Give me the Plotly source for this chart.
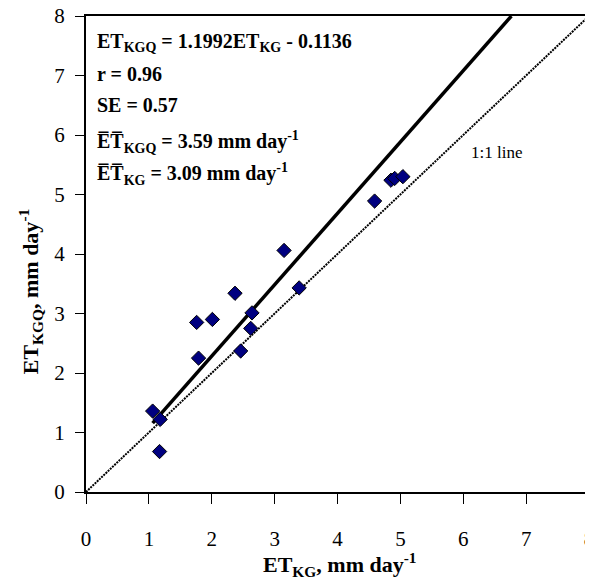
import plotly.graph_objects as go

et_kg = [1.06, 1.18, 1.17, 1.76, 2.01, 1.79, 2.37, 2.46, 2.64, 2.62, 3.15, 3.39, 4.59, 4.85, 4.91, 5.04]
et_kgq = [1.36, 1.22, 0.68, 2.85, 2.90, 2.25, 3.34, 2.37, 3.01, 2.75, 4.06, 3.43, 4.89, 5.24, 5.27, 5.30]

slope = 1.1992
intercept = -0.1136
reg_x = [1.06, (8 - intercept) / slope]
reg_y = [slope * v + intercept for v in reg_x]
one_x = [0, 8]
one_y = [0, 8]

tick_vals = [0, 1, 2, 3, 4, 5, 6, 7, 8]

FONT = "Times New Roman, Liberation Serif, DejaVu Serif, serif"

fig = go.Figure()
fig.add_trace(go.Scatter(x=one_x, y=one_y, mode="lines",
                         line=dict(color="black", width=2, dash="2px,1px"), showlegend=False))
fig.add_trace(go.Scatter(x=reg_x, y=reg_y, mode="lines",
                         line=dict(color="black", width=3.5), showlegend=False))
fig.add_trace(go.Scatter(x=et_kg, y=et_kgq, mode="markers",
                         marker=dict(symbol="diamond", size=11, color="#000080",
                                     line=dict(color="black", width=1)), showlegend=False))

lines = [
    "<b>ET<sub>KGQ</sub> = 1.1992ET<sub>KG</sub> - 0.1136</b>",
    "<b>r = 0.96</b>",
    "<b>SE = 0.57</b>",
    "<b>E\u0305T\u0305<sub>KGQ</sub> = 3.59 mm day<sup>-1</sup></b>",
    "<b>E\u0305T\u0305<sub>KG</sub> = 3.09 mm day<sup>-1</sup></b>",
]
ypos = [0.945, 0.878, 0.812, 0.736, 0.668]
for t, yy in zip(lines, ypos):
    fig.add_annotation(text=t, xref="paper", yref="paper", x=0.018, y=yy,
                       xanchor="left", yanchor="middle", showarrow=False,
                       font=dict(family=FONT, size=20, color="black"))

fig.add_annotation(text="1:1 line", x=6.53, y=5.70, xref="x", yref="y",
                   showarrow=False, font=dict(family=FONT, size=17, color="black"))

# axis titles
fig.add_annotation(text="<b>ET<sub>KG</sub>, mm day<sup>-1</sup></b>",
                   xref="paper", yref="paper", x=0.505, y=-0.153,
                   xanchor="center", yanchor="middle", showarrow=False,
                   font=dict(family=FONT, size=22, color="black"))
fig.add_annotation(text="<b>ET<sub>KGQ</sub>, mm day<sup>-1</sup></b>",
                   xref="paper", yref="paper", x=-0.111, y=0.422,
                   xanchor="center", yanchor="middle", showarrow=False, textangle=-90,
                   font=dict(family=FONT, size=22, color="black"))

axis_common = dict(range=[0, 8], tickvals=tick_vals, showgrid=False, zeroline=False,
                   showline=True, linecolor="black", linewidth=2, mirror=True,
                   ticks="outside", tickcolor="black", tickwidth=1,
                   automargin=False, ticklabeloverflow="allow",
                   tickfont=dict(family=FONT, size=21, color="black"))

fig.update_xaxes(**axis_common, ticklen=10, ticklabelstandoff=17)
fig.update_yaxes(**axis_common, ticklen=9, ticklabelstandoff=6)

fig.update_layout(width=585, height=573, margin=dict(l=78, r=4, t=8, b=89),
                  plot_bgcolor="white", paper_bgcolor="white",
                  font=dict(family=FONT))

fig.write_html("out.html")
